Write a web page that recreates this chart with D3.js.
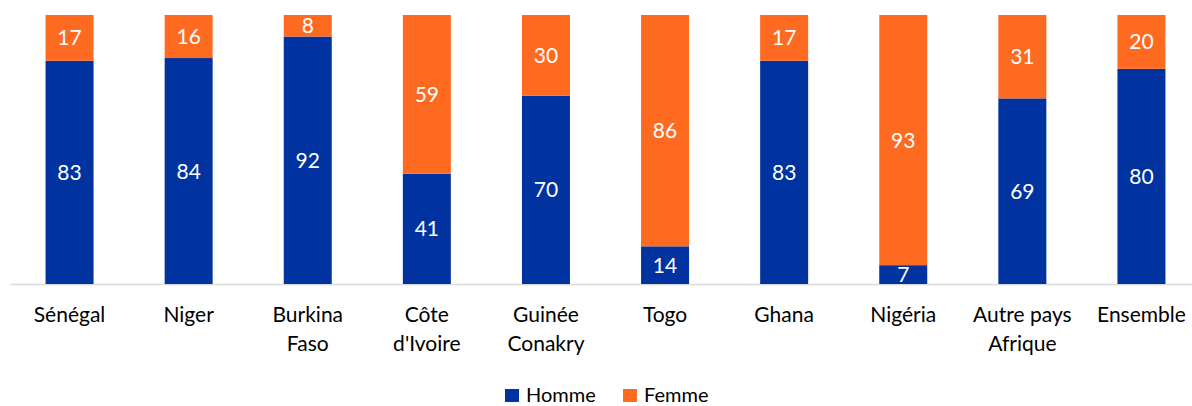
<!DOCTYPE html>
<meta charset="utf-8">
<script src="https://d3js.org/d3.v7.min.js"></script>
<style>
  body { margin: 0; background: #fff; }
  text { font-family: Lato, "Open Sans", sans-serif; }
</style>
<div id="chart"></div>
<script>

// data
var categories = ["Sénégal", "Niger", "Burkina Faso", "Côte d'Ivoire", "Guinée Conakry",
                  "Togo", "Ghana", "Nigéria", "Autre pays Afrique", "Ensemble"];
var labelLines = [["Sénégal"], ["Niger"], ["Burkina", "Faso"], ["Côte", "d'Ivoire"], ["Guinée", "Conakry"],
                  ["Togo"], ["Ghana"], ["Nigéria"], ["Autre pays", "Afrique"], ["Ensemble"]];
var homme = [83, 84, 92, 41, 70, 14, 83, 7, 69, 80];
var femme = [17, 16, 8, 59, 30, 86, 17, 93, 31, 20];
var seriesNames = ["Homme", "Femme"];
var colors = ["#0033a0", "#ff6a21"];

var width = 1192, height = 406;
var margin = {top: 15, right: 0, bottom: 122, left: 10};

var svg = d3.select("#chart").append("svg")
  .attr("width", width)
  .attr("height", height);

var x = d3.scaleBand()
  .domain(categories)
  .range([margin.left, margin.left + 1191])
  .paddingInner(0.597)
  .paddingOuter(0.2985);

var y = d3.scaleLinear()
  .domain([0, 100])
  .range([height - margin.bottom, margin.top]);

var table = categories.map(function(c, i) {
  return {cat: c, Homme: homme[i], Femme: femme[i]};
});
var stacked = d3.stack().keys(seriesNames)(table);

// axis line
svg.append("line")
  .attr("x1", margin.left).attr("x2", margin.left + 1191)
  .attr("y1", y(0) + 0.5).attr("y2", y(0) + 0.5)
  .attr("stroke", "#d9d9d9")
  .attr("stroke-width", 1.5);

var layers = svg.selectAll("g.layer")
  .data(stacked)
  .enter().append("g")
  .attr("class", "layer")
  .attr("fill", function(d, i) { return colors[i]; });

layers.selectAll("rect")
  .data(function(d) { return d; })
  .enter().append("rect")
  .attr("x", function(d) { return x(d.data.cat); })
  .attr("y", function(d) { return y(d[1]); })
  .attr("width", x.bandwidth())
  .attr("height", function(d) { return y(d[0]) - y(d[1]); });

// value labels
layers.selectAll("text")
  .data(function(d) { return d; })
  .enter().append("text")
  .attr("x", function(d) { return x(d.data.cat) + x.bandwidth() / 2; })
  .attr("y", function(d) { return (y(d[0]) + y(d[1])) / 2; })
  .attr("dy", "0.36em")
  .attr("text-anchor", "middle")
  .attr("fill", "#fff")
  .style("font-size", "21px")
  .text(function(d) { return d[1] - d[0]; });

// category labels
var xl = svg.selectAll("text.cat")
  .data(categories)
  .enter().append("text")
  .attr("class", "cat")
  .attr("text-anchor", "middle")
  .attr("fill", "#000")
  .style("font-size", "21px")
  .attr("transform", function(d) { return "translate(" + (x(d) + x.bandwidth() / 2) + "," + (y(0) + 38) + ")"; });

xl.selectAll("tspan")
  .data(function(d, i) { return labelLines[i]; })
  .enter().append("tspan")
  .attr("x", 0)
  .attr("dy", function(d, i) { return i === 0 ? 0 : 29; })
  .text(function(d) { return d; });

// legend
var legend = svg.append("g").attr("transform", "translate(505,388)");
var lx = [0, 118];
seriesNames.forEach(function(s, i) {
  legend.append("rect")
    .attr("x", lx[i]).attr("y", 1)
    .attr("width", 14).attr("height", 13)
    .attr("fill", colors[i]);
  legend.append("text")
    .attr("x", lx[i] + 21).attr("y", 7)
    .attr("dy", "0.36em")
    .style("font-size", "20px")
    .attr("fill", "#000")
    .text(s);
});

</script>
